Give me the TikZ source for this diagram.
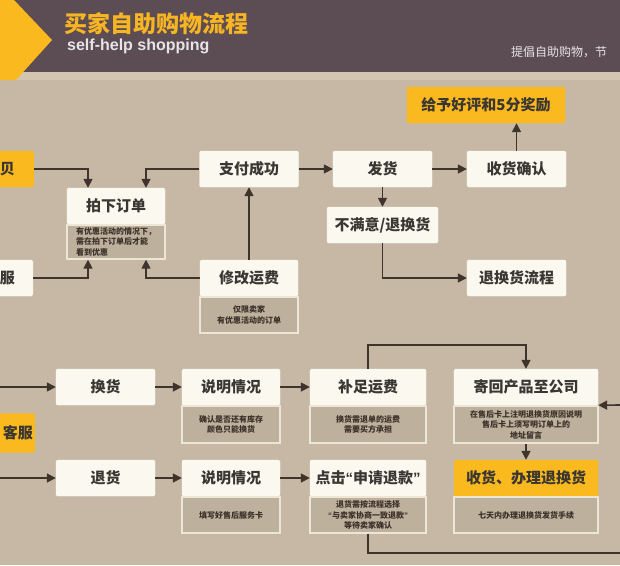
\documentclass[tikz,border=0pt]{standalone}
\usepackage{fontspec}
\setmainfont{Noto Sans CJK SC}
\newfontfamily\latinfont{Liberation Sans}
\usetikzlibrary{arrows.meta}
\definecolor{bg}{HTML}{C6B8A5}
\definecolor{hdr}{HTML}{5C4C53}
\definecolor{strip}{HTML}{D3C5B0}
\definecolor{cream}{HTML}{FBF8EF}
\definecolor{subf}{HTML}{BDB09C}
\definecolor{subb}{HTML}{EDE5D6}
\definecolor{yel}{HTML}{FAB91E}
\definecolor{titley}{HTML}{F7B524}
\definecolor{lc}{HTML}{3E342C}
\definecolor{txt}{HTML}{3A3632}
\definecolor{stxt}{HTML}{3A3028}
\newcommand{\myoq}{{\latinfont\bfseries “}}
\newcommand{\mycq}{{\latinfont\bfseries ”}}
\begin{document}
\begin{tikzpicture}[x=1pt,y=-1pt,
  mbox/.style={fill=cream, draw=cream, rounded corners=1.5pt, minimum height=36pt, inner sep=0pt,
    font=\bfseries\fontsize{15}{15}\selectfont, text=txt},
  ybox/.style={mbox, fill=yel, draw=yel},
  sbox/.style={fill=subf, draw=subb, line width=1.5pt, inner sep=0pt, anchor=north,
    font=\bfseries\fontsize{8}{10.5}\selectfont, align=center, text=stxt},
  conn/.style={draw=lc, line width=1.6pt, -{Triangle[length=9pt,width=9pt]}}]
\useasboundingbox (0,0) rectangle (620,565);
\clip (0,0) rectangle (620,565);
\fill[bg] (0,0) rectangle (620,565);
\fill[strip] (0,70) rectangle (620,80);
\fill[hdr] (0,0) rectangle (620,72);
\fill[yel] (0,0) -- (14,0) -- (52,40) -- (16,80) -- (0,80) -- cycle;
\node[anchor=west, inner sep=0pt, font=\bfseries\fontsize{23}{23}\selectfont, text=titley] (title) at (64,24) {买家自助购物流程};
\node[anchor=west, inner sep=0pt, font=\latinfont\bfseries\fontsize{16}{16}\selectfont, text=white!85!hdr] (sub) at (67,46) {self-help shopping};
\node[anchor=west, inner sep=0pt, font=\fontsize{12}{12}\selectfont, text=white!85!hdr] (slogan) at (511,52) {提倡自助购物，节};

% top section
\node[mbox, minimum width=98pt] (pxd) at (116,206) {拍下订单};
\node[sbox, minimum width=98pt, minimum height=34pt, align=left] (pxds) at (pxd.south) {有优惠活动的情况下，\\需在拍下订单后才能\\看到优惠};
\node[mbox, minimum width=99pt] (zfcg) at (249,169) {支付成功};
\node[mbox, minimum width=98pt] (xgyf) at (249,278) {修改运费};
\node[sbox, minimum width=98pt, minimum height=36pt] (xgyfs) at (xgyf.south) {仅限卖家\\有优惠活动的订单};
\node[mbox, minimum width=99pt] (fh) at (382.5,169) {发货};
\node[mbox, minimum width=99pt] (shqr) at (516.5,169) {收货确认};
\node[ybox, minimum width=158pt] (hp) at (486,105) {给予好评和5分奖励};
\node[mbox, minimum width=111pt] (bmy) at (382.5,225) {不满意/退换货};
\node[mbox, minimum width=99pt] (thl) at (516.5,278) {退换货流程};
\node[ybox, minimum width=80pt, anchor=east, text width=74pt, align=right] (bei) at (34,169) {贝\hspace*{16pt}};
\node[mbox, minimum width=80pt, anchor=east, text width=74pt, align=right] (fu) at (33,278) {服\hspace*{15pt}};

% bottom section
\node[mbox, minimum width=99pt] (hh) at (105.5,387) {换货};
\node[mbox, minimum width=98pt] (sm1) at (231,387) {说明情况};
\node[sbox, minimum width=98pt, minimum height=37pt] (sm1s) at (sm1.south) {确认是否还有库存\\颜色只能换货};
\node[mbox, minimum width=116pt] (bz) at (368,387) {补足运费};
\node[sbox, minimum width=116pt, minimum height=37pt] (bzs) at (bz.south) {换货需退单的运费\\需要买方承担};
\node[mbox, minimum width=144pt] (jh) at (526,387) {寄回产品至公司};
\node[sbox, minimum width=144pt, minimum height=37pt] (jhs) at (jh.south) {在售后卡上注明退换货原因说明\\售后卡上须写明订单上的\\地址留言};
\node[ybox, minimum width=80pt, minimum height=39pt, anchor=east, text width=76pt, align=right] (kf) at (35,433) {客服};
\node[mbox, minimum width=99pt] (th) at (105.5,478) {退货};
\node[mbox, minimum width=98pt] (sm2) at (231,478) {说明情况};
\node[sbox, minimum width=98pt, minimum height=36pt] (sm2s) at (sm2.south) {填写好售后服务卡};
\node[mbox, minimum width=116pt] (dj) at (368,478) {点击\myoq 申请退款\mycq};
\node[sbox, minimum width=116pt, minimum height=36pt] (djs) at (dj.south) {退货需按流程选择\\\myoq 与卖家协商一致退款\mycq\\等待卖家确认};
\node[ybox, minimum width=144pt] (sbh) at (526,478) {收货、办理退换货};
\node[sbox, minimum width=144pt, minimum height=36pt] (sbhs) at (sbh.south) {七天内办理退换货发货手续};

\coordinate (L1) at (0,387);
\coordinate (L2) at (0,478);
\coordinate (R1) at (620,405);
\coordinate (R2) at (620,553);

% connectors top
\draw[conn] (bei.east) -| ([xshift=-28pt]pxd.north);
\draw[conn] (zfcg.west) -| ([xshift=30pt]pxd.north);
\draw[conn] (fu.east) -| ([xshift=-28pt]pxds.south);
\draw[conn] (xgyf.west) -| ([xshift=30pt]pxds.south);
\draw[conn] (xgyf.north) -- (zfcg.south);
\draw[conn] (zfcg.east) -- (fh.west);
\draw[conn] (fh.east) -- (shqr.west);
\draw[conn] (shqr.north) -- (shqr.north |- hp.south);
\draw[conn] (fh.south) -- (bmy.north);
\draw[conn] (bmy.south) |- (thl.west);

% connectors bottom
\draw[conn] (L1) -- (hh.west);
\draw[conn] (hh.east) -- (sm1.west);
\draw[conn] (sm1.east) -- (bz.west);
\draw[conn] (bz.north) -- ++(0,-24) -| (jh.north);
\draw[conn] (jhs.south) -- (sbh.north);
\draw[conn] (R1) -- (jh.south east);
\draw[conn] (L2) -- (th.west);
\draw[conn] (th.east) -- (sm2.west);
\draw[conn] (sm2.east) -- (dj.west);
\draw[draw=lc, line width=1.6pt] (djs.south) |- (R2);
\end{tikzpicture}
\end{document}
